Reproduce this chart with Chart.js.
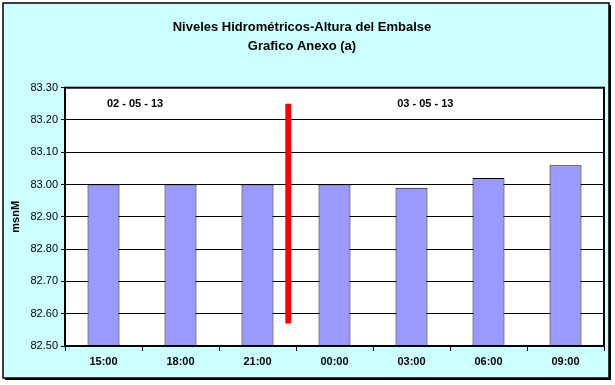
<!DOCTYPE html>
<html>
<head>
<meta charset="utf-8">
<script src="https://cdn.jsdelivr.net/npm/chart.js@4/dist/chart.umd.min.js"></script>
<style>
html,body{margin:0;padding:0;background:#fff;}
#wrap{position:absolute;left:0;top:0;width:615px;height:385px;}
</style>
</head>
<body>
<div id="wrap"><canvas id="c" width="615" height="385"></canvas></div>
<script>
const categories = ['15:00','18:00','21:00','00:00','03:00','06:00','09:00'];
const levels = [83.00, 83.00, 83.00, 83.00, 82.99, 83.02, 83.06];
const yTicks = [82.50, 82.60, 82.70, 82.80, 82.90, 83.00, 83.10, 83.20, 83.30];
const dayMarkerPos = [2.4, 2.4];
const dayMarkerLevels = [83.25, 82.57];
const dateLabels = ['02 - 05 - 13', '03 - 05 - 13'];
const dateLabelPos = [0.41, 4.18];
const dateLabelLevel = 83.25;
const titleLines = ['Niveles Hidrométricos-Altura del Embalse', 'Grafico Anexo (a)'];
const yTitle = 'msnM';

const FONT = '"Liberation Sans", Arial, sans-serif';

const framePlugin = {
  id: 'frame',
  beforeDraw(chart) {
    const ctx = chart.ctx;
    ctx.save();
    ctx.fillStyle = '#ffffff';
    ctx.fillRect(0, 0, chart.width, chart.height);
    ctx.fillStyle = '#000';
    ctx.fillRect(5, 5, 606, 375);
    ctx.fillStyle = '#CCFFFF';
    ctx.fillRect(3, 3, 606, 375);
    ctx.strokeStyle = '#000';
    ctx.lineWidth = 1.5;
    ctx.strokeRect(3, 3, 606, 375);
    const a = chart.chartArea;
    ctx.fillStyle = '#ffffff';
    ctx.fillRect(a.left, a.top, a.right - a.left, a.bottom - a.top);
    ctx.restore();
  },
  afterDatasetsDraw(chart) {
    const ctx = chart.ctx;
    const a = chart.chartArea;
    ctx.save();
    ctx.strokeStyle = '#000';
    ctx.lineWidth = 2;
    ctx.strokeRect(a.left, a.top, a.right - a.left, a.bottom - a.top);
    const xs = chart.scales.x, ys = chart.scales.y;
    ctx.fillStyle = '#000';
    ctx.font = 'bold 11px ' + FONT;
    ctx.textAlign = 'center';
    ctx.textBaseline = 'middle';
    dateLabels.forEach((t, i) => {
      ctx.fillText(t, xs.getPixelForValue(dateLabelPos[i]), ys.getPixelForValue(dateLabelLevel));
    });
    ctx.restore();
  }
};

new Chart(document.getElementById('c'), {
  type: 'bar',
  data: {
    labels: categories,
    datasets: [
      {
        data: levels,
        backgroundColor: '#9999FF',
        borderColor: '#000000',
        borderWidth: 1,
        barPercentage: 0.415,
        categoryPercentage: 1,
        grouped: false,
        xAxisID: 'x',
        yAxisID: 'y',
        order: 1
      },
      {
        type: 'line',
        data: dayMarkerPos.map((x, i) => ({x: x, y: dayMarkerLevels[i]})),
        xAxisID: 'x2',
        yAxisID: 'y',
        borderColor: '#FF0000',
        borderWidth: 6,
        pointRadius: 0,
        fill: false,
        order: 0
      }
    ]
  },
  plugins: [framePlugin],
  options: {
    responsive: false,
    animation: false,
    devicePixelRatio: 1,
    layout: { padding: { left: 0, right: 11, top: 8, bottom: 0 } },
    plugins: {
      legend: { display: false },
      tooltip: { enabled: false },
      title: {
        display: true,
        text: titleLines,
        color: '#000',
        font: { family: FONT, size: 13, weight: 'bold', lineHeight: 1.45 },
        padding: { top: 10, bottom: 32 }
      }
    },
    scales: {
      x: {
        type: 'category',
        offset: true,
        grid: { display: true, drawOnChartArea: false, color: '#000', tickLength: 5, tickWidth: 1, offset: true },
        border: { display: true, color: '#000', width: 2 },
        ticks: { color: '#000', font: { family: FONT, size: 11, weight: 'bold' }, padding: 4, maxRotation: 0 },
        afterFit(s) { s.height = 39; }
      },
      x2: {
        type: 'linear',
        min: -0.5,
        max: 6.5,
        offset: false,
        bounds: 'data',
        grid: { offset: false },
        display: false
      },
      y: {
        type: 'linear',
        min: 82.5,
        max: 83.3,
        afterBuildTicks(s) { s.ticks = yTicks.map(v => ({value: v})); },
        grid: { color: '#000', lineWidth: 1, tickLength: 4, drawTicks: true },
        border: { display: true, color: '#000', width: 2 },
        ticks: {
          color: '#000',
          font: { family: FONT, size: 11 },
          padding: 3,
          callback: v => Number(v).toFixed(2)
        },
        title: {
          display: true,
          text: yTitle,
          color: '#000',
          font: { family: FONT, size: 11, weight: 'bold' },
          padding: { top: 9, bottom: 0 }
        },
        afterFit(s) { s.width = 65; }
      }
    }
  }
});
</script>
</body>
</html>
